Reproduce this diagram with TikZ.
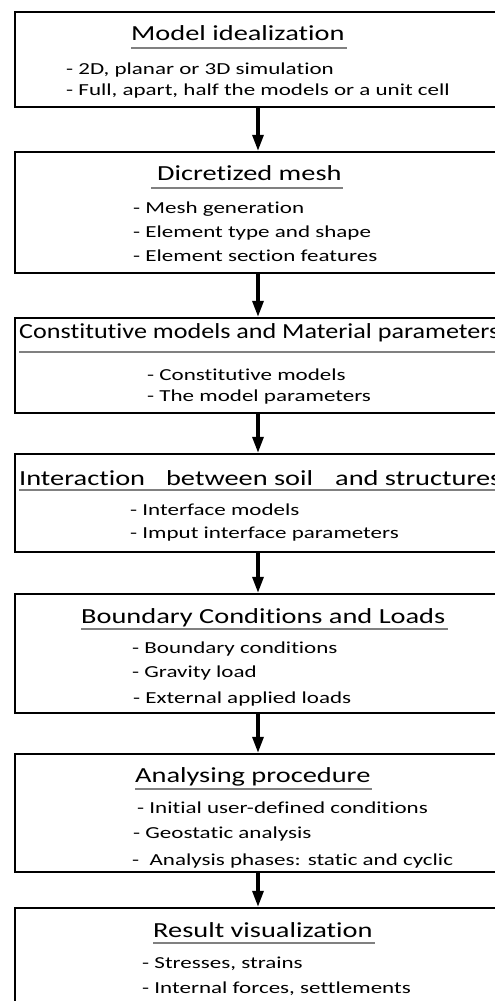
\documentclass[tikz,border=0pt]{standalone}
\usepackage{fontspec}
\setmainfont{Carlito}[Ligatures=NoCommon]
\newfontfamily\ttlfont{Carlito}[FakeStretch=1.32,Ligatures=NoCommon]
\newfontfamily\ttlnarrowfont{Carlito}[FakeStretch=1.215,Ligatures=NoCommon]
\newfontfamily\bdyfont{Carlito}[FakeStretch=1.37,Ligatures=NoCommon]
\usetikzlibrary{arrows.meta}
\begin{document}
\begin{tikzpicture}[x=1pt,y=-1pt,
  box/.style={draw=black, line width=2.4pt, minimum width=486pt, inner sep=0pt, rectangle},
  ttl/.style={inner sep=0pt, anchor=base west, font=\ttlfont\fontsize{21.5}{26}\selectfont},
  ttlnarrow/.style={ttl, font=\ttlnarrowfont\fontsize{21.5}{26}\selectfont},
  bdy/.style={inner sep=0pt, anchor=base west, font=\bdyfont\fontsize{16.8}{20}\selectfont},
  uline/.style={draw=black!50, line width=2pt},
  arr/.style={line width=3.2pt, -{Triangle[width=11pt,length=16pt]}}]
\useasboundingbox (0,0) rectangle (495,1001);
\clip (0,0) rectangle (495,1001);
% boxes
\node[box, minimum height=95pt]  (b1) at (258,59.5) {};
\node[box, minimum height=121pt] (b2) at (258,212.5) {};
\node[box, minimum height=95pt]  (b3) at (258,365.5) {};
\node[box, minimum height=98pt]  (b4) at (258,503) {};
\node[box, minimum height=119pt] (b5) at (258,653.5) {};
\node[box, minimum height=118pt] (b6) at (258,813) {};
\node[box, minimum height=122pt] (b7) at (258,969) {};
% titles
\node[ttl] (t1) at (131,40) {Model idealization};
\node[ttl] (t2) at (157,180) {Dicretized mesh};
\node[ttlnarrow] (t3) at (19,338) {Constitutive models and Material parameters};
\node[ttl] (t4) at (19,485) {Interaction\hspace{21pt}between soil\hspace{22pt}and structures};
\node[ttl] (t5) at (81,623) {Boundary Conditions and Loads};
\node[ttl] (t6) at (135,782) {Analysing procedure};
\node[ttl] (t7) at (153,937) {Result visualization};
% underlines
\draw[uline] (t1.west |- 0,48) -- ([xshift=2pt]t1.east |- 0,48);
\draw[uline] ([xshift=-6pt]t2.west |- 0,188) -- ([xshift=1pt]t2.east |- 0,188);
\draw[uline] (t3.west |- 0,352) -- ([xshift=2pt]t3.east |- 0,352);
\draw[uline] (t4.west |- 0,490) -- ([xshift=2pt]t4.east |- 0,490);
\draw[uline] (t5.west |- 0,629) -- ([xshift=2pt]t5.east |- 0,629);
\draw[uline] (t6.west |- 0,789) -- ([xshift=1pt]t6.east |- 0,789);
\draw[uline] (t7.west |- 0,943) -- ([xshift=2pt]t7.east |- 0,943);
% body lines
\node[bdy] (l11) at (66,74) {- 2D, planar or 3D simulation};
\node[bdy] (l12) at (66,95.7) {- Full, apart, half the models or a unit cell};
\node[bdy] (l21) at (133,213) {- Mesh generation};
\node[bdy] (l22) at (133,237) {- Element type and shape};
\node[bdy] (l23) at (133,261) {- Element section features};
\node[bdy] (l31) at (147,380) {- Constitutive models};
\node[bdy] (l32) at (147,401.7) {- The model parameters};
\node[bdy] (l41) at (130,515) {- Interface models};
\node[bdy] (l42) at (130,538) {- Imput interface parameters};
\node[bdy] (l51) at (132,653) {- Boundary conditions};
\node[bdy] (l52) at (132,677) {- Gravity load};
\node[bdy] (l53) at (133,703) {- External applied loads};
\node[bdy] (l61) at (137,813) {- Initial user-defined conditions};
\node[bdy] (l62) at (133,838) {- Geostatic analysis};
\node[bdy] (l63) at (132,865) {-\ \ Analysis phases: static and cyclic};
\node[bdy] (l71) at (142,968) {- Stresses, strains};
\node[bdy] (l72) at (142,993) {- Internal forces, settlements};
% arrows
\draw[arr] (b1.south) -- (b2.north);
\draw[arr] (b2.south) -- (b3.north);
\draw[arr] (b3.south) -- (b4.north);
\draw[arr] (b4.south) -- (b5.north);
\draw[arr] (b5.south) -- (b6.north);
\draw[arr] (b6.south) -- (b7.north);
\end{tikzpicture}
\end{document}
